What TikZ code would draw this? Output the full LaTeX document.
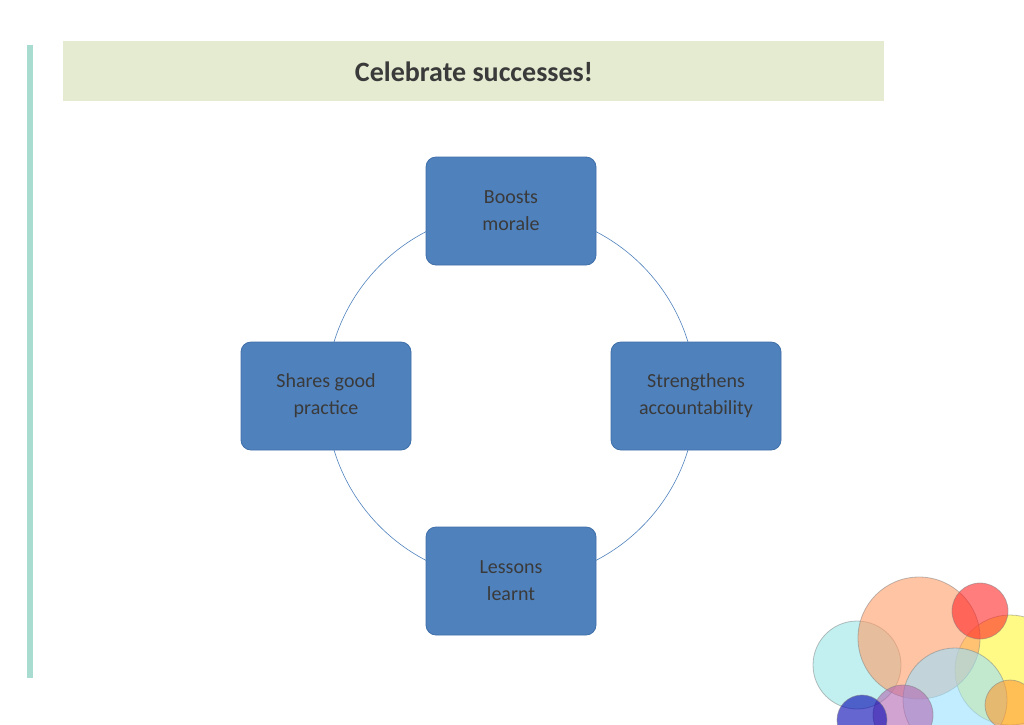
\documentclass[tikz,border=0pt]{standalone}
\usepackage{fontspec}
\setmainfont{Carlito}
\begin{document}
\begin{tikzpicture}[x=1pt,y=-1pt,
  box/.style={draw=boxedge,fill=boxblue,rounded corners=10pt,minimum width=170pt,minimum height=108pt,align=center,text=txtgray,font=\fontsize{20}{27}\selectfont,line width=0.8pt},
  bub/.style={fill opacity=0.6,draw opacity=0.5,line width=0.8pt}]
\definecolor{boxblue}{HTML}{4F81BD}
\definecolor{boxedge}{HTML}{3F6FA8}
\definecolor{txtgray}{HTML}{3A3A3A}
\definecolor{band}{HTML}{E4EBD1}
\definecolor{bar}{HTML}{A9DCD1}
\useasboundingbox (0,0) rectangle (1024,724);
\clip (0,0) rectangle (1024,724);
\fill[band] (63,41) rectangle (884,101);
\node[font=\bfseries\fontsize{28}{32}\selectfont,text=txtgray] (title) at (474,72) {Celebrate successes!};
\fill[bar] (27,45) rectangle (33,678);
\node[draw=boxblue,line width=0.6pt,circle,minimum size=370pt] (ring) at (511,396) {};
\node[box] (top) at (511,211) {Boosts\\morale};
\node[box] (right) at (696,396) {Strengthens\\accountability};
\node[box] (bottom) at (511,581) {Lessons\\learnt};
\node[box] (left) at (326,396) {Shares good\\practice};
\begin{scope}[bub]
\filldraw[fill=teal!50!cyan!40!white,draw=gray] (857,665) circle (44);
\filldraw[fill=yellow!80!white,draw=gray] (1010,670) circle (55);
\filldraw[fill=orange!70!red!60!white,draw=gray] (919,638) circle (61);
\filldraw[fill=red!80!pink,draw=gray] (980,611) circle (28);
\filldraw[fill=blue!30!cyan!40!white,draw=gray] (955,700) circle (52);
\filldraw[fill=orange!80!white,draw=gray] (1010,705) circle (25);
\filldraw[fill=violet!60!white,draw=gray] (903,715) circle (30);
\filldraw[fill=blue!70!black,draw=gray] (862,720) circle (25);
\end{scope}
\end{tikzpicture}
\end{document}
